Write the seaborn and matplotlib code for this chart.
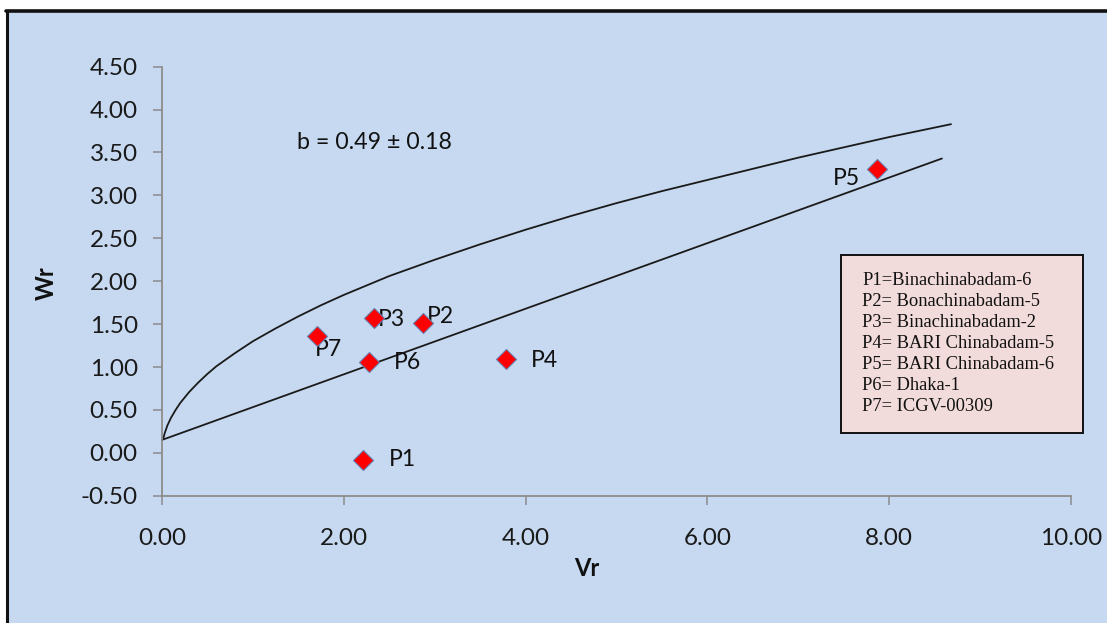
import matplotlib
matplotlib.use("Agg")
import matplotlib.pyplot as plt
from matplotlib.patches import Rectangle
from matplotlib.lines import Line2D
import pandas as pd
import seaborn as sns

# Parent array values (variance Vr, covariance Wr)
parents = ["P1", "P2", "P3", "P4", "P5", "P6", "P7"]
vr = [2.21, 2.87, 2.33, 3.78, 7.87, 2.28, 1.71]
wr = [-0.08, 1.51, 1.57, 1.09, 3.31, 1.06, 1.36]

# Regression line end points
reg_vr = [0.0, 8.58]
reg_wr = [0.15, 3.43]

# Limiting parabola points
par_vr = [0.0, 0.015, 0.03, 0.06, 0.1, 0.15, 0.2, 0.3, 0.4, 0.5, 0.6, 0.8,
          1.0, 1.25, 1.5, 1.75, 2.0, 2.5, 3.0, 3.5, 4.0, 4.5, 5.0, 5.5,
          6.0, 6.5, 7.0, 7.5, 8.0, 8.68]
par_wr = [0.15, 0.17, 0.23, 0.32, 0.41, 0.50, 0.58, 0.71, 0.82, 0.92, 1.01, 1.16,
          1.30, 1.45, 1.59, 1.72, 1.84, 2.06, 2.25, 2.43, 2.60, 2.76, 2.91, 3.05,
          3.18, 3.31, 3.44, 3.56, 3.68, 3.83]

slope_text = "b = 0.49 \u00b1 0.18"
genotype_names = [
    "P1=Binachinabadam-6",
    "P2= Bonachinabadam-5",
    "P3= Binachinabadam-2",
    "P4= BARI Chinabadam-5",
    "P5= BARI Chinabadam-6",
    "P6= Dhaka-1",
    "P7= ICGV-00309",
]

x_ticks = [0, 2, 4, 6, 8, 10]
y_ticks = [-0.5, 0.0, 0.5, 1.0, 1.5, 2.0, 2.5, 3.0, 3.5, 4.0, 4.5]

# label offsets from each marker, in pixels (dx, dy, horizontal alignment)
label_offsets = {
    "P1": (26, 0, "left"),
    "P2": (4, 7, "left"),
    "P3": (4, -1, "left"),
    "P4": (25, -1, "left"),
    "P5": (-17, -10, "right"),
    "P6": (25, -1, "left"),
    "P7": (-3, -13, "left"),
}

sns.set_style("white")
plt.rcParams["font.family"] = ["Lato", "DejaVu Sans"]

W, H = 1107, 623
fig = plt.figure(figsize=(W / 100, H / 100), dpi=100, facecolor="white")

bg = "#C6D9F0"
fig.patches.append(Rectangle((7 / W, -0.01), 1.02, 1 - 11 / H + 0.01,
                             transform=fig.transFigure, facecolor=bg,
                             edgecolor="none", zorder=-2))
fig.lines.append(Line2D([7 / W, 7 / W], [0, 1 - 11 / H], transform=fig.transFigure,
                        color="#111111", lw=2.2, zorder=-1))
fig.lines.append(Line2D([6 / W, 1.0], [1 - 11 / H, 1 - 11 / H], transform=fig.transFigure,
                        color="#111111", lw=2.6, zorder=-1))

ax = fig.add_axes([162 / W, 1 - 495.7 / H, (1071 - 162) / W, (495.7 - 66.7) / H])
ax.set_facecolor("none")

pts = pd.DataFrame({"Vr": vr, "Wr": wr, "Parent": parents})
reg = pd.DataFrame({"Vr": reg_vr, "Wr": reg_wr})
par = pd.DataFrame({"Vr": par_vr, "Wr": par_wr})

sns.lineplot(data=par, x="Vr", y="Wr", sort=False, color="#1a1a1a", lw=1.3, ax=ax,
             clip_on=False)
sns.lineplot(data=reg, x="Vr", y="Wr", sort=False, color="#1a1a1a", lw=1.3, ax=ax,
             clip_on=False)
sns.scatterplot(data=pts, x="Vr", y="Wr", marker="D", s=105, color="#FF0000",
                edgecolor="#6A7FB0", linewidth=0.8, ax=ax, zorder=5, clip_on=False)

px = 72 / 100
for name, x, y in zip(parents, vr, wr):
    dx, dy, ha = label_offsets[name]
    ax.annotate(name, (x, y), xytext=(dx * px, dy * px), textcoords="offset points",
                ha=ha, va="center", fontsize=16.5, color="#111111")

ax.text(1.483, 3.613, slope_text, ha="left", va="center", fontsize=16.7, color="#111111")

ax.set_xlim(0, 10)
ax.set_ylim(-0.5, 4.5)
ax.set_xticks(x_ticks)
ax.set_xticklabels([f"{t:.2f}" for t in x_ticks])
ax.set_yticks(y_ticks)
ax.set_yticklabels([f"{t:.2f}" for t in y_ticks])

for s in ["top", "right"]:
    ax.spines[s].set_visible(False)
for s in ["left", "bottom"]:
    ax.spines[s].set_color("#8C8C8C")
    ax.spines[s].set_linewidth(1.3)
ax.tick_params(axis="both", which="both", direction="out", length=6.5, width=1.1,
               color="#8C8C8C", labelsize=17.5, labelcolor="#1a1a1a",
               bottom=True, left=True)
ax.tick_params(axis="y", pad=11)
ax.tick_params(axis="x", pad=17)

ax.set_xlabel("")
ax.set_ylabel("")
fig.text(587 / W, 1 - 568 / H, "Vr", ha="center", va="center", fontsize=17,
         fontweight="bold", color="#111111")
fig.text(46 / W, 1 - 283 / H, "Wr", ha="center", va="center", fontsize=17,
         fontweight="bold", color="#111111", rotation=90)

# key to parent names
fig.patches.append(Rectangle((841 / W, 1 - 433 / H), (1083 - 841) / W, (433 - 255.5) / H,
                             transform=fig.transFigure, facecolor="#F2DCDB",
                             edgecolor="#111111", lw=1.4, zorder=3))
for i, line in enumerate(genotype_names):
    fig.text(862 / W, 1 - (280.7 + 21 * i) / H, line, ha="left", va="center",
             fontsize=13.3, family="Liberation Serif", color="#111111", zorder=4)

fig.savefig("out.png", dpi=100, facecolor="white")
